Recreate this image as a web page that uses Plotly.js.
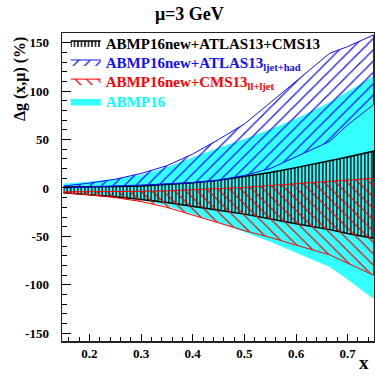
<!DOCTYPE html>
<html>
<head>
<meta charset="utf-8">
<script src="https://cdn.plot.ly/plotly-3.0.1.min.js"></script>
<style>html,body{margin:0;padding:0;background:#fff;}#chart{width:375px;height:377px;}</style>
</head>
<body>
<div id="chart"></div>
<script>
// x grid (momentum fraction)
var xVals = [0.15, 0.2, 0.25, 0.3, 0.35, 0.4, 0.45, 0.5, 0.55, 0.6, 0.665, 0.7, 0.75];

// ABMP16new+ATLAS13+CMS13 (black, vertical hatch)
var blackUp = [1, 1, 1.5, 2, 3.5, 5.5, 8, 12, 16, 21, 28, 32, 38];
var blackLo = [-5, -7, -9, -12, -15, -19, -23, -27, -32, -37, -43, -47, -52];

// ABMP16new+ATLAS13 ljet+had (blue)
var blueUp = [2, 5, 9, 15, 23, 35, 50, 66, 88, 110, 139, 146, 158];
var blueLo = [0, 1, 2, 3, 4, 5.5, 8, 13, 20, 32, 48, 65, 86];

// ABMP16new+CMS13 ll+ljet (red)
var redUp = [-4, -4, -4, -3.5, -3, -2, -1, 0.5, 2.5, 4.5, 7, 8.5, 10];
var redLo = [-5, -7, -10, -14, -20, -28, -36, -44, -51, -59, -69, -78, -90];

// ABMP16 (cyan)
var cyanUp = [4, 6, 9, 13, 21, 31, 41, 50, 60, 71, 88, 99, 115];
var cyanLo = [-3, -5, -8, -12, -18, -27, -35, -45, -55, -66, -81, -94, -114];

// tick labels
var xTickVals = [0.2, 0.3, 0.4, 0.5, 0.6, 0.7];
var xTickText = ["0.2", "0.3", "0.4", "0.5", "0.6", "0.7"];
var yTickVals = [-150, -100, -50, 0, 50, 100, 150];
var yTickText = ["-150", "-100", "-50", "0", "50", "100", "150"];

var names = {
  black: '<span style="color:#000000">ABMP16new+ATLAS13+CMS13</span>',
  blue: '<span style="color:#1010ff">ABMP16new+ATLAS13<sub>ljet+had</sub></span>',
  red: '<span style="color:#ff0000">ABMP16new+CMS13<sub>ll+ljet</sub></span>',
  cyan: '<span style="color:#00ffff">ABMP16</span>'
};

function band(up, lo) {
  var xs = xVals.concat(xVals.slice().reverse());
  var ys = up.concat(lo.slice().reverse());
  return {x: xs, y: ys};
}

var FONT = 'Liberation Serif, Times New Roman, serif';

var cb = band(cyanUp, cyanLo);
var kb = band(blackUp, blackLo);
var bb = band(blueUp, blueLo);
var rb = band(redUp, redLo);

var traces = [
  {x: cb.x, y: cb.y, type: 'scatter', mode: 'lines', fill: 'toself', name: names.cyan, legend: 'legend4',
   fillcolor: '#33ffff', line: {color: '#33ffff', width: 1}},
  {x: kb.x, y: kb.y, type: 'scatter', mode: 'lines', fill: 'toself', name: names.black, legend: 'legend',
   fillcolor: 'rgba(0,0,0,0)', line: {color: '#000000', width: 1.5},
   fillpattern: {shape: '|', fgcolor: '#000000', size: 3.5, solidity: 0.4, fillmode: 'replace'}},
  {x: bb.x, y: bb.y, type: 'scatter', mode: 'lines', fill: 'toself', name: names.blue, legend: 'legend2',
   fillcolor: 'rgba(0,0,0,0)', line: {color: '#1010ff', width: 1},
   fillpattern: {shape: '/', fgcolor: '#1010ff', size: 8, solidity: 0.15, fillmode: 'replace'}},
  {x: rb.x, y: rb.y, type: 'scatter', mode: 'lines', fill: 'toself', name: names.red, legend: 'legend3',
   fillcolor: 'rgba(0,0,0,0)', line: {color: '#ff0000', width: 1},
   fillpattern: {shape: '\\', fgcolor: '#ff0000', size: 8, solidity: 0.15, fillmode: 'replace'}}
];

function leg(yc) {
  return {x: 0.012, y: yc, xanchor: 'left', yanchor: 'middle', bgcolor: 'rgba(0,0,0,0)',
          font: {family: FONT, size: 15, weight: 'bold'}, itemwidth: 30};
}

var layout = {
  width: 375, height: 377,
  margin: {l: 62, r: 1, t: 33, b: 36},
  paper_bgcolor: '#ffffff', plot_bgcolor: '#ffffff',
  font: {family: FONT, size: 13, color: '#000', weight: 'bold'},
  title: {text: 'μ=3 GeV', font: {family: FONT, size: 18, weight: 'bold', color: '#000'},
          x: 0.505, xanchor: 'center', y: 0.963, yanchor: 'middle', yref: 'container'},
  showlegend: true,
  legend: leg(0.967),
  legend2: leg(0.905),
  legend3: leg(0.843),
  legend4: leg(0.777),
  xaxis: {range: [0.147, 0.751], tickvals: xTickVals, ticktext: xTickText,
          ticks: 'inside', ticklen: 7, tickwidth: 1, tickcolor: '#000',
          minor: {dtick: 0.02, tick0: 0.2, ticks: 'inside', ticklen: 4, tickcolor: '#000'},
          showline: true, linecolor: '#222', linewidth: 1.5, mirror: true,
          showgrid: false, zeroline: false,
          tickfont: {family: FONT, size: 13, weight: 'bold'}},
  yaxis: {range: [-158, 160], tickvals: yTickVals, ticktext: yTickText,
          ticks: 'inside', ticklen: 9, tickwidth: 1, tickcolor: '#000',
          minor: {dtick: 10, tick0: 0, ticks: 'inside', ticklen: 5, tickcolor: '#000'},
          showline: true, linecolor: '#222', linewidth: 1.5, mirror: true,
          showgrid: false, zeroline: false, ticklabelstandoff: 9,
          tickfont: {family: FONT, size: 13, weight: 'bold'}},
  annotations: [
    {text: 'Δg (x,μ) (%)', xref: 'paper', yref: 'paper', x: -0.135, y: 0.993,
     xanchor: 'center', yanchor: 'top', textangle: -90, showarrow: false,
     font: {family: FONT, size: 16, weight: 'bold', color: '#000'}},
    {text: 'x', xref: 'paper', yref: 'paper', x: 0.968, y: -0.111,
     xanchor: 'center', yanchor: 'bottom', showarrow: false,
     font: {family: FONT, size: 19, weight: 'bold', color: '#000'}}
  ]
};

Plotly.newPlot('chart', traces, layout, {displayModeBar: false, staticPlot: true});
</script>
</body>
</html>
